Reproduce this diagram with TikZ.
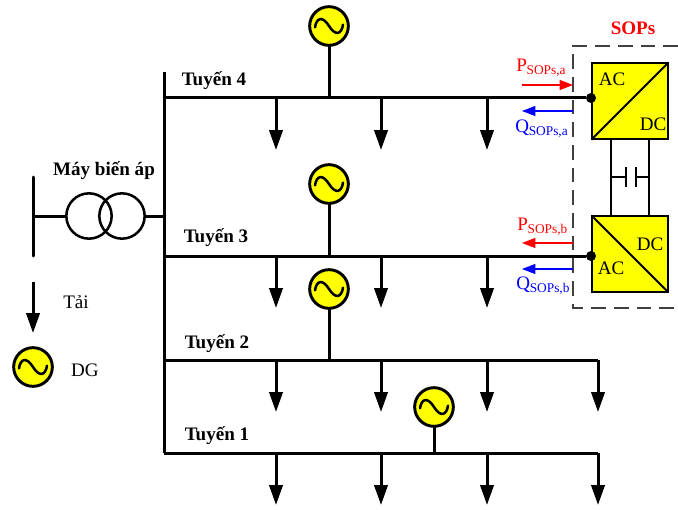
\documentclass[tikz,border=0pt]{standalone}
\usepackage{fontspec}
\setmainfont{Liberation Serif}
\usetikzlibrary{arrows.meta,positioning}
\definecolor{sopyellow}{RGB}{255,255,0}
\tikzset{
  bus/.style={line width=2.25pt},
  load/.style={line width=2.25pt,-{Triangle[length=15pt,width=10pt]}},
  gen/.style={draw,circle,fill=sopyellow,line width=2.2pt,minimum size=29pt,inner sep=0pt,
    path picture={\draw[line width=1.9pt,line cap=round] ([shift={(-10.5pt,-1pt)}]path picture bounding box.center)
      .. controls +(1pt,7pt) and +(-5pt,8pt) .. (path picture bounding box.center)
      .. controls +(5pt,-8pt) and +(-1pt,-7pt) .. ([shift={(10.5pt,1pt)}]path picture bounding box.center);}},
  conv/.style={draw,fill=sopyellow,line width=1.4pt,minimum size=56.5pt,inner sep=0pt},
  winding/.style={draw,circle,line width=1.9pt,minimum size=34pt,inner sep=0pt},
  flowp/.style={red,line width=.8pt,-{Triangle[length=10pt,width=7.5pt]}},
  flowq/.style={blue,line width=.8pt,-{Triangle[length=10pt,width=7.5pt]}},
  lbl/.style={inner sep=0pt,font=\fontsize{14.3}{14.3}\selectfont},
  lblb/.style={inner sep=0pt,font=\fontsize{14.3}{14.3}\selectfont\bfseries},
  dot/.style={circle,fill=black,inner sep=0pt,minimum size=7.5pt}
}
\newcommand{\flowlbl}[2]{#1\textsubscript{\kern-.2pt SOPs,#2}}
\begin{document}
\begin{tikzpicture}[x=.75pt,y=-.75pt]
  \useasboundingbox (0,0) rectangle (678,510);
  % feeders
  \coordinate (top) at (164,72);
  \coordinate (t4) at (164,98);
  \coordinate (t3) at (164,256);
  \coordinate (t2) at (164,360);
  \coordinate (t1) at (164,453);
  \coordinate (t2e) at (598,360);
  \coordinate (t1e) at (598,453);
  \node[conv] (ca) at (630,101) {};
  \node[conv] (cb) at (630,254) {};
  \node[dot] (da) at (591,98) {};
  \node[dot] (db) at (591,256) {};
  \draw[bus] (top) -- (t1);
  \draw[bus] (t4) -- (da);
  \draw[bus] (t3) -- (db);
  \draw[bus] (t2) -- (t2e);
  \draw[bus] (t1) -- (t1e);
  % loads
  \foreach \x/\y in {276/98,381/98,487/98,276/256,381/256,487/256,276/360,381/360,487/360,598/360,276/453,381/453,487/453,598/453}
    \draw[load] (\x,\y) -- (\x,\y+52);
  % generators
  \foreach \n/\x/\y/\b in {g4/329/26/98,g3/329/184/256,g2/329/289/360,g1/434/407/453}{
    \draw[bus] (\x,\y) -- (\x,\b);
    \node[gen] (\n) at (\x,\y) {};
  }
  % transformer
  \node[winding] (w1) at (89,216) {};
  \node[winding] (w2) at (122,216) {};
  \coordinate (hv) at (33,216);
  \draw[bus] (hv) -- (w1.west);
  \draw[bus] (w2.east) -- (164,216);
  \draw[bus,line cap=round] (33,177) -- (33,256);
  \node[lblb] at (104,171) {Máy biến áp};
  % legend
  \draw[load] (33,282) -- (33,333);
  \node[lbl] (tai) at (76,302) {Tải};
  \node[gen] (dg) at (33,367) {};
  \node[lbl] (dgt) at (85,370) {DG};
  % feeder names
  \node[lblb] at (214,80.5) {Tuyến 4};
  \node[lblb] at (216,237.5) {Tuyến 3};
  \node[lblb] at (217,343.5) {Tuyến 2};
  \node[lblb] at (217,435.5) {Tuyến 1};
  % SOPs
  \draw[black!75,line width=.9pt,dash pattern=on 11pt off 6pt] (678,46) -- (573,46) -- (573,308) -- (678,308);
  \node[lblb,red] at (633,28) {SOPs};
  \draw[line width=1.4pt] (ca.south west) -- (ca.north east);
  \draw[line width=1.4pt] (cb.north west) -- (cb.south east);
  \node[lbl] at (612,79) {AC};
  \node[lbl] at (653,124) {DC};
  \node[lbl] at (650,244) {DC};
  \node[lbl] at (611,268) {AC};
  % dc link
  \coordinate (l1) at (611,177);
  \coordinate (l2) at (649,177);
  \draw[line width=1.4pt] (611,139) -- (611,216);
  \draw[line width=1.4pt] (649,139) -- (649,216);
  \draw[line width=1.4pt] (l1) -- (626,177) (626,167) -- (626,187) (636,167) -- (636,187) (636,177) -- (l2);
  % power flows
  \draw[flowp] (522,85) -- (573,85);
  \draw[flowq] (573,111) -- (522,111);
  \draw[flowp] (573,243) -- (522,243);
  \draw[flowq] (573,269) -- (522,269);
  \node[lbl,red,anchor=west] at (516,68) {\flowlbl{P}{a}};
  \node[lbl,blue,anchor=west] at (515,129) {\flowlbl{Q}{a}};
  \node[lbl,red,anchor=west] at (517,227) {\flowlbl{P}{b}};
  \node[lbl,blue,anchor=west] at (516,286) {\flowlbl{Q}{b}};
\end{tikzpicture}
\end{document}
